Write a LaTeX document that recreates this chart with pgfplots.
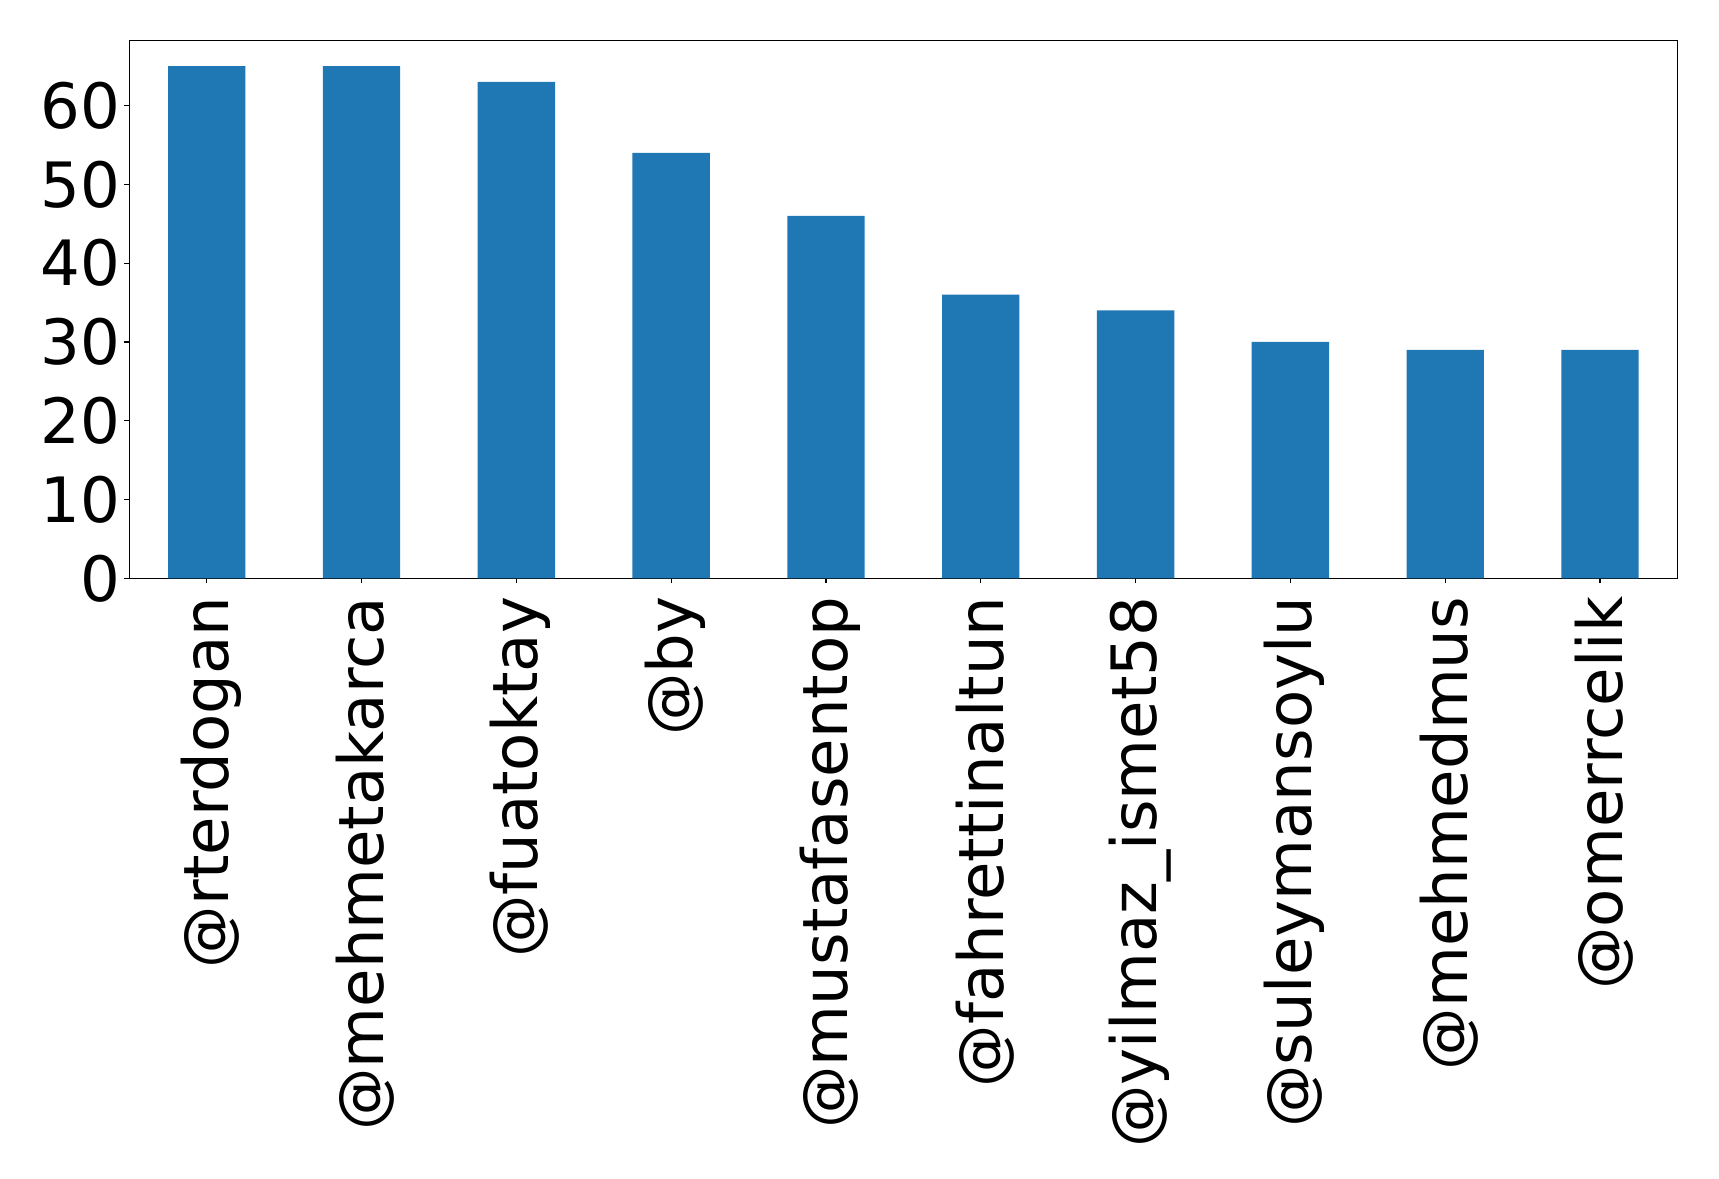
\documentclass[border=0pt]{standalone}
\usepackage{fontspec}
\setmainfont{DejaVu Sans}
\usepackage{pgfplots}
\pgfplotsset{compat=1.18}
\definecolor{barblue}{HTML}{1F77B4}
\begin{document}
\begin{tikzpicture}
\useasboundingbox (-93.1pt,-432.0pt) rectangle (1144.6pt,416.5pt);
\begin{axis}[
  at={(0pt,0pt)}, anchor=south west,
  scale only axis,
  width=1114.6pt, height=387.4pt,
  xmin=-0.5, xmax=9.5,
  ymin=0, ymax=68.25,
  axis line style={line width=0.8pt, black},
  tick style={line width=0.8pt, black},
  tick align=outside,
  major tick length=3.5pt,
  xtick={0,...,9},
  xticklabels={@rterdogan,@mehmetakarca,@fuatoktay,@by,@mustafasentop,@fahrettinaltun,@yilmaz\_ismet58,@suleymansoylu,@mehmedmus,@omerrcelik},
  ytick={0,10,20,30,40,50,60},
  xtick pos=bottom, ytick pos=left,
  /pgf/number format/assume math mode=true,
  ticklabel style={font=\fontsize{45}{54}\selectfont},
  xticklabel style={rotate=90, anchor=east, inner sep=0pt, xshift=-9.5pt, yshift=-3pt},
  yticklabel style={inner sep=0pt, xshift=-3pt},
  ybar, bar width=0.5, bar shift=0pt,
]
\addplot[fill=barblue, draw=none] coordinates {
(0,65) (1,65) (2,63) (3,54) (4,46) (5,36) (6,34) (7,30) (8,29) (9,29)
};
\end{axis}
\end{tikzpicture}
\end{document}
